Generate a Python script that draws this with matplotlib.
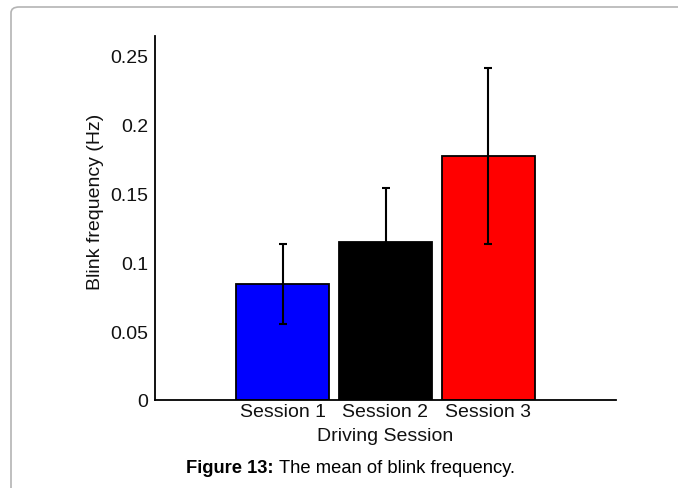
import numpy as np
import matplotlib.pyplot as plt
from matplotlib.patches import FancyBboxPatch

plt.rcParams['font.family'] = ['Liberation Sans', 'DejaVu Sans']

sessions = ['Session 1', 'Session 2', 'Session 3']
blink_mean = [0.0843, 0.1148, 0.1770]
blink_err = [0.0294, 0.0393, 0.0640]
bar_colors = ['#0000ff', '#000000', '#ff0000']
yticks = [0, 0.05, 0.1, 0.15, 0.2, 0.25]
ytick_labels = ['0', '0.05', '0.1', '0.15', '0.2', '0.25']

fig = plt.figure(figsize=(6.78, 4.89), dpi=100)

# page frame around the figure
frame = FancyBboxPatch((11 / 678, -0.05), 1.0, 1.05 - 8 / 489,
                       boxstyle='round,pad=0,rounding_size=0.012',
                       transform=fig.transFigure, fill=False,
                       edgecolor='#b4b4b4', linewidth=1.2)
fig.patches.append(frame)

ax = fig.add_axes([155 / 678, 88 / 489, 461 / 678, 364 / 489])
x = np.arange(1, len(sessions) + 1)
ax.bar(x, blink_mean, width=0.9, color=bar_colors, edgecolor='black', linewidth=1.3)
ax.errorbar(x, blink_mean, yerr=blink_err, fmt='none', ecolor='black',
            elinewidth=1.5, capsize=3, capthick=1.5)

ax.set_xlim(-0.24, 4.24)
ax.set_ylim(0, 0.2645)
ax.set_xticks(x)
ax.set_xticklabels(sessions)
ax.set_yticks(yticks)
ax.set_yticklabels(ytick_labels)
ax.tick_params(length=0, labelsize=14, colors='#111111')
ax.tick_params(axis='x', pad=2.5)
ax.tick_params(axis='y', pad=5)
for s in ['top', 'right']:
    ax.spines[s].set_visible(False)
for s in ['left', 'bottom']:
    ax.spines[s].set_linewidth(1.3)

ax.set_xlabel('Driving Session', fontsize=14, labelpad=5, color='#111111')
fig.text(95 / 678, 1 - 202 / 489, 'Blink frequency (Hz)', rotation=90,
         ha='center', va='center', fontsize=14, color='#111111')

fig.text(274 / 678, 1 - 469 / 489, 'Figure 13:', fontsize=13.2,
         fontweight='bold', ha='right', va='center')
fig.text(279 / 678, 1 - 469 / 489, 'The mean of blink frequency.', fontsize=13.2,
         ha='left', va='center')

fig.savefig('out.png', dpi=100)
